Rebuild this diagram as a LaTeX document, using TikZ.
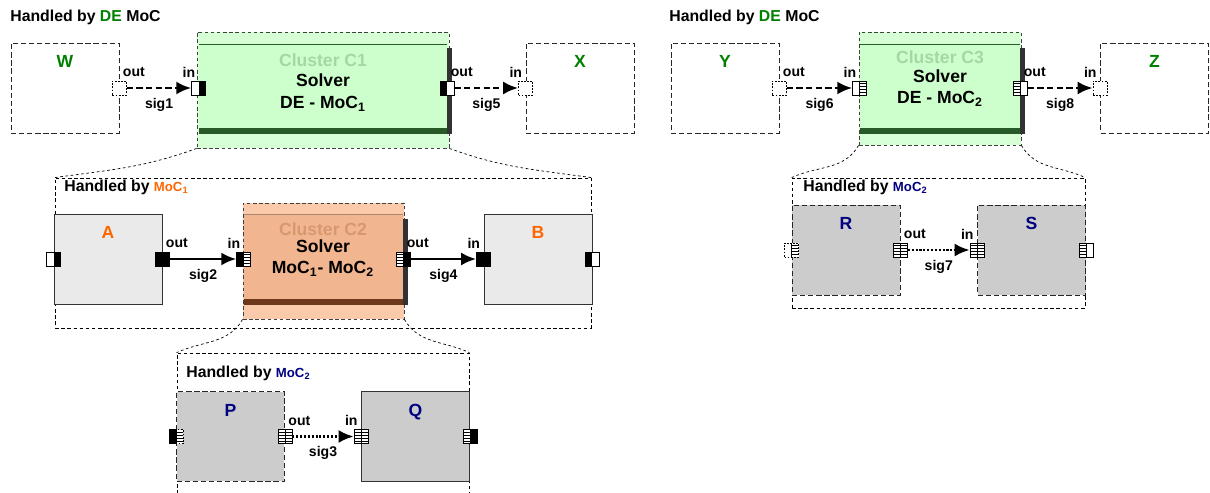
\documentclass[tikz,border=0pt]{standalone}
\usepackage{fontspec}
\setmainfont{Liberation Sans}
\usetikzlibrary{arrows.meta,positioning,calc}
\definecolor{degreen}{RGB}{0,128,0}
\definecolor{mocorange}{RGB}{255,102,0}
\definecolor{mocnavy}{RGB}{0,0,128}
\definecolor{clgreen}{RGB}{204,255,204}
\definecolor{clgreenout}{RGB}{214,255,214}
\definecolor{clgreendark}{RGB}{40,90,40}
\definecolor{clgreentext}{RGB}{165,215,165}
\definecolor{clpeach}{RGB}{241,181,143}
\definecolor{clpeachout}{RGB}{250,202,170}
\definecolor{clpeachdark}{RGB}{110,55,25}
\definecolor{clpeachtext}{RGB}{214,152,112}
\definecolor{shadowgray}{RGB}{50,50,50}
\definecolor{lightbox}{RGB}{234,234,234}
\definecolor{graybox}{RGB}{204,204,204}

\begin{document}
\begin{tikzpicture}[x=0.02cm, y=-0.02cm,
  font=\bfseries\fontsize{9}{11}\selectfont,
  box/.style={minimum width=2.16cm, minimum height=1.8cm, inner sep=0, line width=0.55pt},
  dbox/.style={box, draw=black!85, dash pattern=on 3pt off 1.6pt},
  sbox/.style={box, draw=black!80},
  cont/.style={draw, inner sep=0, line width=0.45pt, dash pattern=on 2pt off 1.5pt},
  clout/.style={draw=black!75, inner sep=0, line width=0.5pt, dash pattern=on 2pt off 1.5pt},
  clblk/.style={inner sep=0},
  port/.style={draw, fill=white, minimum width=0.28cm, minimum height=0.28cm,
               inner sep=0, line width=0.4pt},
  dport/.style={port, dash pattern=on 1pt off 0.8pt},
  ltr/.style={font=\bfseries\fontsize{10}{12}\selectfont},
  cltxt/.style={font=\bfseries\fontsize{10}{12}\selectfont, inner sep=0},
  plbl/.style={font=\bfseries\fontsize{8}{9}\selectfont, inner sep=1.8pt},
  siglbl/.style={font=\bfseries\fontsize{8}{9}\selectfont, below=4pt, inner sep=1pt},
  sig/.style={line width=1.6pt, -{Latex[length=3mm, width=2.6mm]}},
  sigdash/.style={sig, dash pattern=on 3.5pt off 2pt},
  sigdot/.style={sig, dash pattern=on 1.2pt off 1pt},
  zoomln/.style={line width=0.4pt, dash pattern=on 1.5pt off 1.5pt},
  hdr/.style={anchor=west, inner sep=0}
]
\useasboundingbox (0,0) rectangle (1210,493);

% DE level, left
\node[hdr] (hdl) at (10,17) {Handled by \textcolor{degreen}{DE} MoC};
\node[dbox] (w) at (65,88) {};
\node[dbox] (x) at (580,88) {};
\node[ltr, text=degreen, below=0.14cm of w.north] (wl) {W};
\node[ltr, text=degreen, below=0.14cm of x.north] (xl) {X};
\node[clout, fill=clgreenout, minimum width=5.04cm, minimum height=2.32cm] (c1) at (323,90) {};
\node[clblk, fill=clgreen, minimum width=4.96cm, minimum height=1.74cm] (c1b) at (323,88) {};
\draw[clgreendark, line width=0.6pt] (c1b.north west) -- (c1b.north east);
\fill[clgreendark] ($(c1b.south west)+(0,-4)$) rectangle ($(c1b.south east)+(0,2)$);
\fill[shadowgray] ($(c1b.north east)+(0,4)$) rectangle ($(c1b.south east)+(5,2)$);
\node[cltxt, text=clgreentext] (c1t) at (323,60) {Cluster C1};
\node[cltxt] (c1s) at (323,80) {Solver};
\node[cltxt] (c1m) at (323,104) {DE - MoC\textsubscript{1}};

% MoC1 level
\node[cont, minimum width=10.72cm, minimum height=3cm] (moc1) at (323,253) {};
\node[hdr] (hdm1) at (64,187) {Handled by \textcolor{mocorange}{\fontsize{7.5}{9}\selectfont MoC\textsubscript{1}}};
\draw[zoomln] (c1.south west) to[out=-160,in=8] (moc1.north west);
\draw[zoomln] (c1.south east) to[out=-20,in=172] (moc1.north east);
\node[sbox, fill=lightbox] (a) at (108,259) {};
\node[sbox, fill=lightbox] (b) at (538,259) {};
\node[ltr, text=mocorange, below=0.14cm of a.north] (al) {A};
\node[ltr, text=mocorange, below=0.14cm of b.north] (bl) {B};
\node[clout, fill=clpeachout, minimum width=3.22cm, minimum height=2.32cm] (c2) at (323.5,261) {};
\node[clblk, fill=clpeach, minimum width=3.18cm, minimum height=1.76cm] (c2b) at (323.5,259) {};
\draw[clpeachdark!60, line width=0.4pt] (c2b.north west) -- (c2b.north east);
\fill[clpeachdark] ($(c2b.south west)+(0,-4)$) rectangle ($(c2b.south east)+(0,2)$);
\fill[shadowgray] ($(c2b.north east)+(0,4)$) rectangle ($(c2b.south east)+(5,2)$);
\node[cltxt, text=clpeachtext] (c2t) at (323,229) {Cluster C2};
\node[cltxt] (c2s) at (323,246) {Solver};
\node[cltxt] (c2m) at (323,269) {MoC\textsubscript{1}- MoC\textsubscript{2}};

% MoC2 level, below C2
\node[cont, minimum width=5.84cm, minimum height=3.04cm] (moc2a) at (323,429) {};
\node[hdr] (hdm2a) at (186,373) {Handled by \textcolor{mocnavy}{\fontsize{7.5}{9}\selectfont MoC\textsubscript{2}}};
\draw[zoomln] (c2.south west) to[out=-120,in=25] (moc2a.north west);
\draw[zoomln] (c2.south east) to[out=-60,in=155] (moc2a.north east);
\node[dbox, fill=graybox] (p) at (230.5,436.5) {};
\node[sbox, fill=graybox] (q) at (415.5,436.5) {};
\node[ltr, text=mocnavy, below=0.14cm of p.north] (pl) {P};
\node[ltr, text=mocnavy, below=0.14cm of q.north] (ql) {Q};

% DE level, right
\node[hdr] (hdr) at (669,17) {Handled by \textcolor{degreen}{DE} MoC};
\node[dbox] (y) at (725,88) {};
\node[dbox] (z) at (1154.5,88) {};
\node[ltr, text=degreen, below=0.14cm of y.north] (yl) {Y};
\node[ltr, text=degreen, below=0.14cm of z.north] (zl) {Z};
\node[clout, fill=clgreenout, minimum width=3.24cm, minimum height=2.26cm] (c3) at (940,88.5) {};
\node[clblk, fill=clgreen, minimum width=3.2cm, minimum height=1.74cm] (c3b) at (940,88) {};
\draw[clgreendark, line width=0.6pt] (c3b.north west) -- (c3b.north east);
\fill[clgreendark] ($(c3b.south west)+(0,-4)$) rectangle ($(c3b.south east)+(0,2)$);
\fill[shadowgray] ($(c3b.north east)+(0,4)$) rectangle ($(c3b.south east)+(5,2)$);
\node[cltxt, text=clgreentext] (c3t) at (940,57) {Cluster C3};
\node[cltxt] (c3s) at (940,76) {Solver};
\node[cltxt] (c3m) at (940,99) {DE - MoC\textsubscript{2}};

% MoC2 level, below C3
\node[cont, minimum width=5.86cm, minimum height=2.6cm] (moc2b) at (938.5,243) {};
\node[hdr] (hdm2b) at (803,187) {Handled by \textcolor{mocnavy}{\fontsize{7.5}{9}\selectfont MoC\textsubscript{2}}};
\draw[zoomln] (c3.south west) to[out=-120,in=25] (moc2b.north west);
\draw[zoomln] (c3.south east) to[out=-60,in=155] (moc2b.north east);
\node[dbox, fill=graybox] (r) at (846,250) {};
\node[dbox, fill=graybox] (s) at (1031.5,250) {};
\node[ltr, text=mocnavy, below=0.14cm of r.north] (rl) {R};
\node[ltr, text=mocnavy, below=0.14cm of s.north] (sl) {S};

% ports
\node[dport] (wout) at (w.east) {};
\node[port] (c1in) at (c1b.west) {};
\node[port] (c1out) at (c1b.east) {};
\node[dport] (xin) at (x.west) {};
\node[port] (aleft) at (a.west) {};
\node[port] (aout) at (a.east) {};
\node[port] (c2in) at (c2b.west) {};
\node[port] (c2out) at (c2b.east) {};
\node[port] (bin) at (b.west) {};
\node[port] (bright) at (b.east) {};
\node[dport] (pleft) at (p.west) {};
\node[port] (pout) at (p.east) {};
\node[port] (qin) at (q.west) {};
\node[port] (qright) at (q.east) {};
\node[dport] (yout) at (y.east) {};
\node[port] (c3in) at (c3b.west) {};
\node[port] (c3out) at (c3b.east) {};
\node[dport] (zin) at (z.west) {};
\node[dport] (rleft) at (r.west) {};
\node[port] (rout) at (r.east) {};
\node[port] (sin) at (s.west) {};
\node[port] (sright) at (s.east) {};

% port halves: black or striped
\foreach \p in {c1out,aout,bin,bright,c2in,pleft}
  \fill (\p.north west) rectangle (\p.south);
\foreach \p in {c1in,aleft,aout,bin,c2out,qright}
  \fill (\p.north) rectangle (\p.south east);
\foreach \p in {c2out,pout,qin,qright,c3out,rout,sin,sright}{
  \draw[line width=0.4pt] (\p.north) -- (\p.south);
  \foreach \k in {0.2,0.4,0.6,0.8}
    \draw[line width=0.35pt] ($(\p.north west)!\k!(\p.south west)$) -- ($(\p.north)!\k!(\p.south)$);
}
\foreach \p in {c2in,pleft,pout,qin,c3in,rleft,rout,sin}{
  \draw[line width=0.4pt] (\p.north) -- (\p.south);
  \foreach \k in {0.2,0.4,0.6,0.8}
    \draw[line width=0.35pt] ($(\p.north)!\k!(\p.south)$) -- ($(\p.north east)!\k!(\p.south east)$);
}

% signals
\draw[sigdash] (wout) -- node[siglbl] (s1) {sig1} (c1in);
\draw[sig] (aout) -- node[siglbl] (s2) {sig2} (c2in);
\draw[sigdot] (pout) -- node[siglbl] (s3) {sig3} (qin);
\draw[sig] (c2out) -- node[siglbl] (s4) {sig4} (bin);
\draw[sigdash] (c1out) -- node[siglbl] (s5) {sig5} (xin);
\draw[sigdash] (yout) -- node[siglbl] (s6) {sig6} (c3in);
\draw[sigdot] (rout) -- node[siglbl] (s7) {sig7} (sin);
\draw[sigdash] (c3out) -- node[siglbl] (s8) {sig8} (zin);

% port labels
\node[plbl, anchor=south west] (woutl) at (wout.north) {out};
\node[plbl, anchor=south east] (c1inl) at (c1in.north) {in};
\node[plbl, anchor=south west] (c1outl) at (c1out.north) {out};
\node[plbl, anchor=south east] (xinl) at (xin.north) {in};
\node[plbl, anchor=south west] (aoutl) at (aout.north) {out};
\node[plbl, anchor=south east] (c2inl) at (c2in.north) {in};
\node[plbl, anchor=south west] (c2outl) at (c2out.north) {out};
\node[plbl, anchor=south east] (binl) at (bin.north) {in};
\node[plbl, anchor=south west] (poutl) at (pout.north) {out};
\node[plbl, anchor=south east] (qinl) at (qin.north) {in};
\node[plbl, anchor=south west] (youtl) at (yout.north) {out};
\node[plbl, anchor=south east] (c3inl) at (c3in.north) {in};
\node[plbl, anchor=south west] (c3outl) at (c3out.north) {out};
\node[plbl, anchor=south east] (zinl) at (zin.north) {in};
\node[plbl, anchor=south west] (routl) at (rout.north) {out};
\node[plbl, anchor=south east] (sinl) at (sin.north) {in};
\end{tikzpicture}
\end{document}
